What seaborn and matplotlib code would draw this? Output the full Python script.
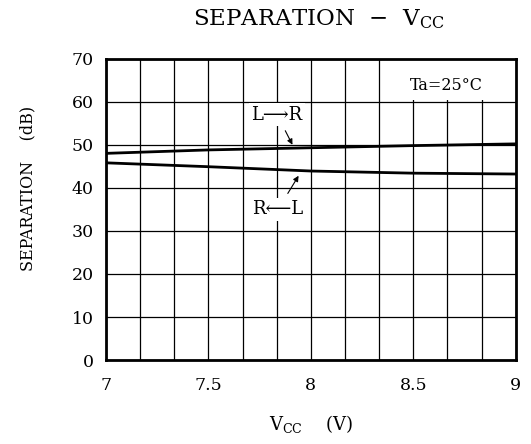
import numpy as np
import pandas as pd
import seaborn as sns
import matplotlib
matplotlib.use('Agg')
from matplotlib import pyplot as plt
from matplotlib.ticker import MultipleLocator
from matplotlib.patches import Rectangle

# Data
vcc = [7.0, 7.5, 8.0, 8.5, 9.0]
sep_l_to_r = [48.0, 48.8, 49.3, 49.8, 50.2]
sep_r_to_l = [45.8, 44.9, 43.9, 43.4, 43.2]
y_ticks = [0, 10, 20, 30, 40, 50, 60, 70]
x_ticks = [7, 7.5, 8, 8.5, 9]
x_tick_labels = ['7', '7.5', '8', '8.5', '9']

df = pd.DataFrame({'vcc': vcc, 'lr': sep_l_to_r, 'rl': sep_r_to_l})

sns.set_style('white')
plt.rcParams['font.family'] = ['DejaVu Serif', 'DejaVu Sans']
plt.rcParams['mathtext.fontset'] = 'dejavuserif'
plt.rcParams['text.color'] = 'black'
plt.rcParams['axes.labelcolor'] = 'black'

fig = plt.figure(figsize=(5.31, 4.44), dpi=100)
ax = fig.add_axes([0.1996, 0.189, 0.7717, 0.679])

sns.lineplot(data=df, x='vcc', y='lr', color='black', linewidth=2, ax=ax, zorder=4)
sns.lineplot(data=df, x='vcc', y='rl', color='black', linewidth=2, ax=ax, zorder=4)

ax.set_xlim(7, 9)
ax.set_ylim(0, 70)
ax.set_xticks(x_ticks, x_tick_labels)
ax.set_yticks(y_ticks)
ax.xaxis.set_minor_locator(MultipleLocator(1/6))
ax.tick_params(axis='both', which='both', length=0, labelsize=12.5, colors='black')
ax.tick_params(axis='x', pad=12)
ax.tick_params(axis='y', pad=9)
ax.grid(True, which='both', color='black', linewidth=0.9)
ax.set_axisbelow(True)
for s in ax.spines.values():
    s.set_color('black')
    s.set_linewidth(2)

# white box behind the temperature note
ax.add_patch(Rectangle((8.345, 60.3), 0.655, 9.7, facecolor='white', edgecolor='none', zorder=2))
ax.text(8.66, 63.8, 'Ta=25°C', ha='center', va='center', fontsize=11.5, zorder=5)

ax.annotate('L⟶R', xy=(7.91, 50.0), xytext=(7.835, 57.0), ha='center', va='center',
            fontsize=13, zorder=5,
            bbox=dict(facecolor='white', edgecolor='none', pad=1.5),
            arrowprops=dict(arrowstyle='-|>', color='black', lw=0.8, mutation_scale=8,
                            shrinkA=4, shrinkB=0))
ax.annotate('R⟵L', xy=(7.94, 42.8), xytext=(7.84, 35.0), ha='center', va='center',
            fontsize=13, zorder=5,
            bbox=dict(facecolor='white', edgecolor='none', pad=1.5),
            arrowprops=dict(arrowstyle='-|>', color='black', lw=0.8, mutation_scale=8,
                            shrinkA=4, shrinkB=0))

ax.set_xlabel(r'V$_{\rm CC}$    (V)', fontsize=13, labelpad=14)
ax.set_ylabel('SEPARATION    (dB)', fontsize=11.5)
ax.yaxis.set_label_coords(-0.17, 0.57)
ax.set_title(r'SEPARATION  $-$  V$_{\rm CC}$', fontsize=16.5, pad=24, x=0.52, color='black')

fig.savefig('out.png', dpi=100)
